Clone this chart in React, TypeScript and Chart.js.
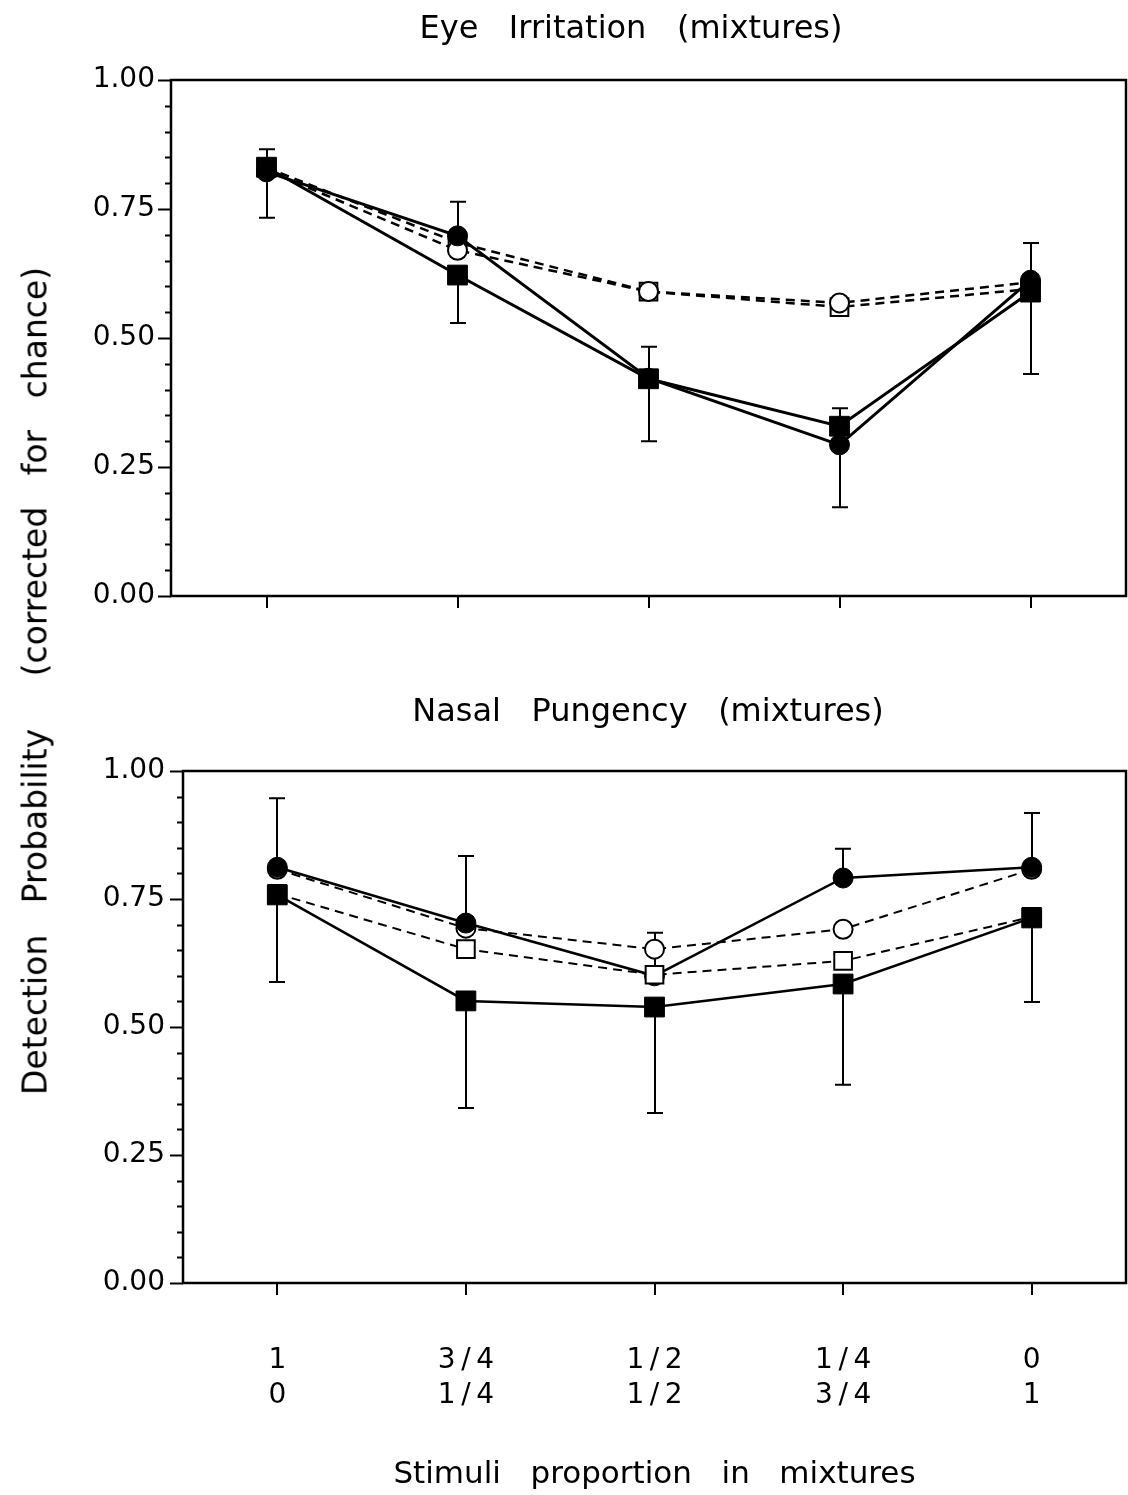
import React, { useEffect, useRef } from 'react';
import { Chart, registerables } from 'chart.js';
Chart.register(...registerables);

// ---------- data ----------
const categories = ['1|0', '3/4|1/4', '1/2|1/2', '1/4|3/4', '0|1'];
const tickLine1 = ['1', '3\u2009/\u20094', '1\u2009/\u20092', '1\u2009/\u20094', '0'];
const tickLine2 = ['0', '1\u2009/\u20094', '1\u2009/\u20092', '3\u2009/\u20094', '1'];
const yMajorTicks = [0, 0.25, 0.5, 0.75, 1];

// Eye irritation
const eyeFilledSquare = [0.831, 0.622, 0.421, 0.329, 0.589];
const eyeFilledCircle = [0.822, 0.698, 0.422, 0.293, 0.612];
const eyeOpenCircle = [0.825, 0.670, 0.590, 0.568, 0.608];
const eyeOpenSquare = [0.830, 0.685, 0.590, 0.560, 0.595];
const eyeErrUpper = [0.866, 0.764, 0.483, 0.364, 0.684];
const eyeErrLower = [0.733, 0.529, 0.300, 0.172, 0.430];

// Nasal pungency
const nasFilledSquare = [0.758, 0.551, 0.539, 0.584, 0.713];
const nasFilledCircle = [0.812, 0.703, 0.600, 0.791, 0.812];
const nasOpenCircle = [0.808, 0.693, 0.652, 0.691, 0.808];
const nasOpenSquare = [0.760, 0.652, 0.602, 0.629, 0.715];
const nasErrUpper = [0.947, 0.834, 0.684, 0.848, 0.918];
const nasErrLower = [0.588, 0.342, 0.332, 0.387, 0.549];

const FONT = "'DejaVu Sans', sans-serif";

type PanelCfg = {
  title: string;
  titleX: number;
  titleY: number;
  filledSquare: number[];
  filledCircle: number[];
  openCircle: number[];
  openSquare: number[];
  errUpper: number[];
  errLower: number[];
  // draw order: lower = on top [filledSquare, openSquare, filledCircle, openCircle]
  orders: number[];
  solidWidth: number;
  dashWidth: number;
  yAxisWidth: number;
  yLabelPad: number;
  padTop: number;
  xHeight: number;
  width: number;
  height: number;
  showXLabels: boolean;
  labelPad: number;
  xTitle?: string;
  xTitleY?: number;
};

function Panel({ cfg, top }: { cfg: PanelCfg; top: number }) {
  const ref = useRef<HTMLCanvasElement | null>(null);
  useEffect(() => {
    if (!ref.current) return;
    const customPlugin = {
      id: 'custom',
      beforeDatasetsDraw(chart: any) {
        const ctx = chart.ctx;
        const xs = chart.scales.x;
        const ys = chart.scales.y;
        ctx.save();
        ctx.strokeStyle = '#000';
        ctx.lineWidth = 2;
        for (let i = 0; i < categories.length; i++) {
          const px = Math.round(xs.getPixelForValue(i));
          const hi = Math.max(cfg.filledSquare[i], cfg.filledCircle[i]);
          const lo = Math.min(cfg.filledSquare[i], cfg.filledCircle[i]);
          const yHi = ys.getPixelForValue(hi);
          const yCapU = ys.getPixelForValue(cfg.errUpper[i]);
          const yLo = ys.getPixelForValue(lo);
          const yCapL = ys.getPixelForValue(cfg.errLower[i]);
          ctx.beginPath();
          ctx.moveTo(px, yHi);
          ctx.lineTo(px, yCapU);
          ctx.moveTo(px - 8, yCapU);
          ctx.lineTo(px + 8, yCapU);
          ctx.moveTo(px, yLo);
          ctx.lineTo(px, yCapL);
          ctx.moveTo(px - 8, yCapL);
          ctx.lineTo(px + 8, yCapL);
          ctx.stroke();
        }
        ctx.restore();
      },
      afterDraw(chart: any) {
        const ctx = chart.ctx;
        const a = chart.chartArea;
        const xs = chart.scales.x;
        const ys = chart.scales.y;
        ctx.save();
        ctx.strokeStyle = '#000';
        ctx.lineWidth = 2.5;
        ctx.strokeRect(a.left, a.top, a.right - a.left, a.bottom - a.top);
        ctx.lineWidth = 2;
        ctx.beginPath();
        for (let k = 0; k <= 20; k++) {
          const v = k * 0.05;
          const py = Math.round(ys.getPixelForValue(v)) + 0.5;
          const len = k % 5 === 0 ? 13 : 6;
          ctx.moveTo(a.left - len, py);
          ctx.lineTo(a.left, py);
        }
        for (let i = 0; i < categories.length; i++) {
          const px = Math.round(xs.getPixelForValue(i));
          ctx.moveTo(px, a.bottom);
          ctx.lineTo(px, a.bottom + 12);
        }
        ctx.stroke();
        ctx.fillStyle = '#000';
        ctx.textAlign = 'center';
        ctx.textBaseline = 'middle';
        ctx.font = `32px ${FONT}`;
        ctx.fillText(cfg.title, cfg.titleX, cfg.titleY);
        if (cfg.xTitle) {
          ctx.font = `31px ${FONT}`;
          ctx.fillText(cfg.xTitle, (a.left + a.right) / 2, cfg.xTitleY!);
        }
        ctx.restore();
      },
    };

    const chart = new Chart(ref.current, {
      type: 'line',
      data: {
        labels: categories,
        datasets: [
          {
            label: 'filled square',
            data: cfg.filledSquare,
            borderColor: '#000',
            borderWidth: cfg.solidWidth,
            pointStyle: 'rect',
            pointRadius: 14,
            pointBackgroundColor: '#000',
            pointBorderColor: '#000',
            pointBorderWidth: 1,
            tension: 0,
            order: cfg.orders[0],
          },
          {
            label: 'open square',
            data: cfg.openSquare,
            borderColor: '#000',
            borderWidth: cfg.dashWidth,
            borderDash: [9, 6],
            pointStyle: 'rect',
            pointRadius: 12.5,
            pointBackgroundColor: '#fff',
            pointBorderColor: '#000',
            pointBorderWidth: 2,
            tension: 0,
            order: cfg.orders[1],
          },
          {
            label: 'filled circle',
            data: cfg.filledCircle,
            borderColor: '#000',
            borderWidth: cfg.solidWidth,
            pointStyle: 'circle',
            pointRadius: 10,
            pointBackgroundColor: '#000',
            pointBorderColor: '#000',
            pointBorderWidth: 1,
            tension: 0,
            order: cfg.orders[2],
          },
          {
            label: 'open circle',
            data: cfg.openCircle,
            borderColor: '#000',
            borderWidth: cfg.dashWidth,
            borderDash: [9, 6],
            pointStyle: 'circle',
            pointRadius: 9.5,
            pointBackgroundColor: '#fff',
            pointBorderColor: '#000',
            pointBorderWidth: 2,
            tension: 0,
            order: cfg.orders[3],
          },
        ],
      },
      options: {
        responsive: false,
        animation: false,
        events: [],
        layout: { autoPadding: false, padding: { top: cfg.padTop, left: 0, right: 2, bottom: 0 } },
        plugins: { legend: { display: false }, title: { display: false }, tooltip: { enabled: false } },
        scales: {
          x: {
            type: 'category',
            offset: true,
            grid: { display: false, drawTicks: false },
            border: { display: false },
            ticks: {
              display: cfg.showXLabels,
              maxRotation: 0,
              autoSkip: false,
              padding: cfg.labelPad,
              color: '#000',
              font: { family: FONT, size: 28, lineHeight: 1.25 },
              callback: (_v: any, i: number) => [tickLine1[i], tickLine2[i]],
            },
            afterFit: (s: any) => {
              s.height = cfg.xHeight;
              s.paddingLeft = 0;
              s.paddingRight = 0;
            },
          },
          y: {
            min: 0,
            max: 1,
            afterBuildTicks: (s: any) => {
              s.ticks = yMajorTicks.map((v) => ({ value: v }));
            },
            grid: { display: false, drawTicks: false },
            border: { display: false },
            ticks: {
              padding: cfg.yLabelPad,
              color: '#000',
              font: { family: FONT, size: 28 },
              callback: (v: any) => Number(v).toFixed(2),
            },
            afterFit: (s: any) => {
              s.width = cfg.yAxisWidth;
              s.paddingTop = 0;
              s.paddingBottom = 0;
            },
          },
        },
      } as any,
      plugins: [customPlugin],
    });
    return () => chart.destroy();
  }, [cfg]);
  return (
    <canvas
      ref={ref}
      width={cfg.width}
      height={cfg.height}
      style={{ position: 'absolute', left: 0, top, width: cfg.width, height: cfg.height }}
    />
  );
}

const topCfg: PanelCfg = {
  title: 'Eye   Irritation   (mixtures)',
  titleX: 631,
  titleY: 30,
  filledSquare: eyeFilledSquare,
  filledCircle: eyeFilledCircle,
  openCircle: eyeOpenCircle,
  openSquare: eyeOpenSquare,
  errUpper: eyeErrUpper,
  errLower: eyeErrLower,
  orders: [0, 3, 1, 2],
  solidWidth: 3,
  dashWidth: 2.5,
  yAxisWidth: 171,
  yLabelPad: 16,
  padTop: 80,
  xHeight: 54,
  width: 1128,
  height: 650,
  showXLabels: false,
  labelPad: 0,
};

const bottomCfg: PanelCfg = {
  title: 'Nasal   Pungency   (mixtures)',
  titleX: 648,
  titleY: 63,
  filledSquare: nasFilledSquare,
  filledCircle: nasFilledCircle,
  openCircle: nasOpenCircle,
  openSquare: nasOpenSquare,
  errUpper: nasErrUpper,
  errLower: nasErrLower,
  orders: [0, 1, 2, 3],
  solidWidth: 2.5,
  dashWidth: 2,
  yAxisWidth: 183,
  yLabelPad: 18,
  padTop: 121,
  xHeight: 212,
  width: 1128,
  height: 845,
  showXLabels: true,
  labelPad: 60,
  xTitle: 'Stimuli   proportion   in   mixtures',
  xTitleY: 825,
};

export default function App() {
  return (
    <div style={{ position: 'absolute', left: 0, top: 0, width: 1128, height: 1495, background: '#fff', overflow: 'hidden' }}>
      <Panel cfg={topCfg} top={0} />
      <Panel cfg={bottomCfg} top={650} />
      <div
        style={{
          position: 'absolute',
          left: 35,
          top: 681,
          transform: 'translate(-50%, -50%) rotate(-90deg)',
          whiteSpace: 'pre',
          fontFamily: FONT,
          fontSize: 33,
          lineHeight: 1,
          color: '#000',
        }}
      >
        {'Detection   Probability     (corrected   for   chance)'}
      </div>
    </div>
  );
}
